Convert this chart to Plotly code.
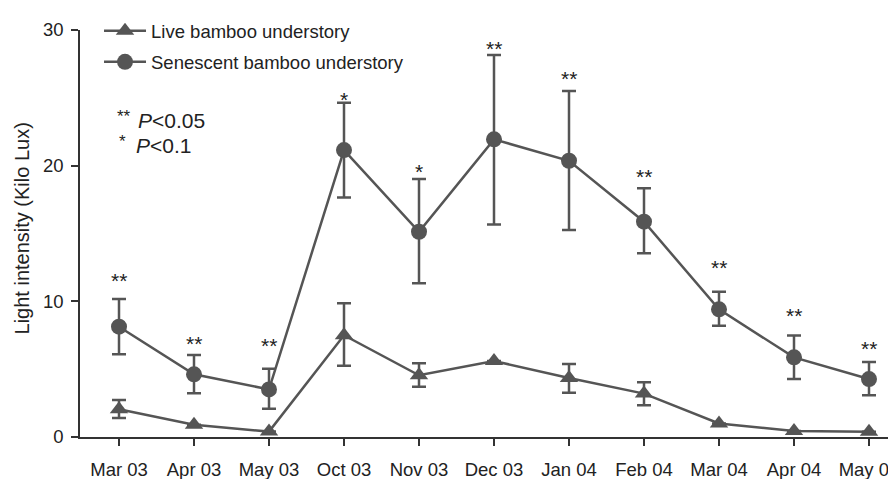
import plotly.graph_objects as go

months = ["Mar 03", "Apr 03", "May 03", "Oct 03", "Nov 03", "Dec 03",
          "Jan 04", "Feb 04", "Mar 04", "Apr 04", "May 04"]

sen_mean = [8.13, 4.62, 3.51, 21.15, 15.13, 21.94, 20.36, 15.87, 9.41, 5.87, 4.27]
sen_upper = [10.17, 6.04, 5.03, 24.63, 19.01, 28.15, 25.5, 18.33, 10.71, 7.49, 5.53]
sen_lower = [6.10, 3.22, 2.09, 17.66, 11.33, 15.67, 15.25, 13.54, 8.20, 4.27, 3.07]

live_mean = [2.05, 0.9, 0.4, 7.5, 4.55, 5.6, 4.35, 3.2, 1.0, 0.45, 0.38]
live_upper = [2.73, 0.9, 0.4, 9.85, 5.43, 5.6, 5.38, 4.03, 1.0, 0.45, 0.38]
live_lower = [1.4, 0.9, 0.4, 5.25, 3.71, 5.6, 3.27, 2.34, 1.0, 0.45, 0.38]

stars = ["**", "**", "**", "*", "*", "**", "**", "**", "**", "**", "**"]
star_y = [11.79, 7.15, 6.93, 25.13, 19.82, 28.89, 26.68, 19.45, 12.75, 9.21, 6.71]

xs = list(range(len(months)))
col = "#555555"
txt = "#222222"
axcol = "#333333"
font_family = "Liberation Sans, Arial, sans-serif"

W, H = 888, 471
L, B = 72, 42
plot_h = H - B

fig = go.Figure()

fig.add_trace(go.Scatter(
    x=xs, y=live_mean, mode="lines+markers", name="Live bamboo understory",
    line=dict(color=col, width=2.5),
    marker=dict(symbol="triangle-up", size=16, color=col),
    error_y=dict(type="data", symmetric=False,
                 array=[u - m for u, m in zip(live_upper, live_mean)],
                 arrayminus=[m - l for m, l in zip(live_mean, live_lower)],
                 color=col, thickness=2.5, width=7),
    cliponaxis=False, legendgroup="a",
))

fig.add_trace(go.Scatter(
    x=xs, y=sen_mean, mode="lines+markers", name="Senescent bamboo understory",
    line=dict(color=col, width=2.5),
    marker=dict(symbol="circle", size=16, color=col),
    error_y=dict(type="data", symmetric=False,
                 array=[u - m for u, m in zip(sen_upper, sen_mean)],
                 arrayminus=[m - l for m, l in zip(sen_mean, sen_lower)],
                 color=col, thickness=2.5, width=7),
    cliponaxis=False, legendgroup="b",
))

annotations = []
for x, s, y in zip(xs, stars, star_y):
    annotations.append(dict(x=x, y=y, xref="x", yref="y", text=s, showarrow=False,
                            yanchor="middle", xanchor="center", yshift=-3,
                            font=dict(size=21, color=txt, family=font_family)))

# significance key: small stars drawn near the top of the line, then italic P
annotations.append(dict(x=0.0429, y=23.62, xref="paper", yref="y",
                        text="**", showarrow=False, xanchor="left", yanchor="middle",
                        font=dict(size=17, color=txt, family=font_family)))
annotations.append(dict(x=0.0429 + 21 / 816, y=23.36, xref="paper", yref="y",
                        text="<i>P</i>&lt;0.05",
                        showarrow=False, xanchor="left", yanchor="middle",
                        font=dict(size=21, color=txt, family=font_family)))
annotations.append(dict(x=0.0429 + 2 / 816, y=21.76, xref="paper", yref="y",
                        text="*", showarrow=False, xanchor="left", yanchor="middle",
                        font=dict(size=17, color=txt, family=font_family)))
annotations.append(dict(x=0.0429 + 19 / 816, y=21.5, xref="paper", yref="y",
                        text="<i>P</i>&lt;0.1",
                        showarrow=False, xanchor="left", yanchor="middle",
                        font=dict(size=21, color=txt, family=font_family)))

annotations.append(dict(x=-0.0711, y=0.486, xref="paper", yref="paper",
                        text="Light intensity (Kilo Lux)", textangle=-90,
                        showarrow=False, xanchor="center", yanchor="middle",
                        font=dict(size=20, color=txt, family=font_family)))

fig.update_layout(
    width=W, height=H,
    margin=dict(l=L, r=0, t=0, b=B, autoexpand=False),
    paper_bgcolor="white", plot_bgcolor="white",
    font=dict(family=font_family, size=18, color=txt),
    showlegend=True,
    legend=dict(x=0.0233, y=0.99, xanchor="left", yanchor="top",
                bgcolor="rgba(0,0,0,0)", font=dict(size=18.5, color=txt),
                traceorder="grouped", tracegroupgap=4, itemwidth=42),
    annotations=annotations,
    xaxis=dict(range=[-0.52, 10.36], tickmode="array", tickvals=xs, ticktext=months,
               showgrid=False, zeroline=False, showline=True, linecolor=axcol,
               linewidth=1.5, ticks="outside", ticklen=7, tickcolor=axcol,
               tickwidth=1.5, tickfont=dict(size=18.5, color=txt),
               ticklabelstandoff=8, ticklabeloverflow="allow", automargin=False),
    yaxis=dict(range=[0, 30], domain=[0, 407 / plot_h], tickvals=[0, 10, 20, 30],
               showgrid=False, zeroline=False,
               showline=True, linecolor=axcol, linewidth=1.5, ticks="outside",
               ticklen=7, tickcolor=axcol, tickwidth=1.5,
               tickfont=dict(size=18.5, color=txt), ticklabelstandoff=4,
               automargin=False),
)

fig.write_html("out.html")
